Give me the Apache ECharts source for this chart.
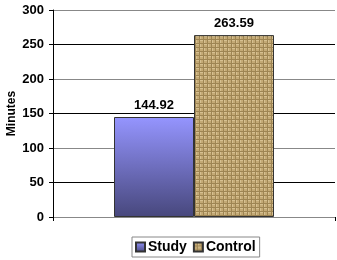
<!DOCTYPE html>
<html>
<head>
<meta charset="utf-8">
<script src="https://cdn.jsdelivr.net/npm/echarts@6/dist/echarts.min.js"></script>
<style>
  html, body { margin: 0; padding: 0; background: #fff; }
  #chart { width: 337px; height: 260px; }
</style>
</head>
<body>
<div id="chart"></div>
<script>
const categories = [''];
const seriesNames = ['Study', 'Control'];
const studyValues = [144.92];
const controlValues = [263.59];
const yTicks = [0, 50, 100, 150, 200, 250, 300];

// burlap-like woven texture for the Control bar
const makeBurlap = () => {
  const c = document.createElement('canvas');
  c.width = 8;
  c.height = 8;
  const ctx = c.getContext('2d');
  ctx.fillStyle = '#c4aa76';
  ctx.fillRect(0, 0, 8, 8);
  ctx.fillStyle = '#9e8553';
  ctx.fillRect(3, 0, 1, 8);
  ctx.fillRect(7, 0, 1, 8);
  ctx.fillRect(0, 3, 8, 1);
  ctx.fillRect(0, 7, 8, 1);
  ctx.fillStyle = '#d6c091';
  ctx.fillRect(0, 0, 3, 1);
  ctx.fillRect(4, 4, 3, 1);
  ctx.fillRect(4, 0, 1, 3);
  ctx.fillRect(0, 4, 1, 3);
  return c;
};

const chart = echarts.init(document.getElementById('chart'));
const labelStyle = {
  show: true,
  position: 'top',
  distance: 5,
  fontFamily: 'Liberation Sans',
  fontWeight: 'bold',
  fontSize: 13,
  color: '#000',
  formatter: (p) => p.value.toFixed(2),
};

chart.setOption({
  animation: false,
  grid: { left: 53, right: 2, top: 10, bottom: 43, outerBoundsMode: 'none', containLabel: false },
  legend: {
    top: 237,
    left: 132,
    data: seriesNames,
    icon: 'rect',
    itemWidth: 9,
    itemHeight: 9,
    itemGap: 6,
    padding: [3, 4, 3, 3],
    borderColor: '#888',
    borderWidth: 1,
    borderRadius: 0,
    textStyle: {
      fontFamily: 'Liberation Sans',
      fontWeight: 'bold',
      fontSize: 14,
      color: '#000',
      padding: [0, 0, 0, -2],
    },
  },
  xAxis: {
    type: 'category',
    data: categories,
    axisLine: { lineStyle: { color: '#888', width: 1 } },
    axisTick: { show: true, length: 4, lineStyle: { color: '#000' } },
    axisLabel: { show: false },
  },
  yAxis: {
    type: 'value',
    min: yTicks[0],
    max: yTicks[yTicks.length - 1],
    interval: 50,
    name: 'Minutes',
    nameLocation: 'middle',
    nameGap: 35,
    nameMoveOverlap: false,
    nameTextStyle: {
      fontFamily: 'Liberation Sans',
      fontWeight: 'bold',
      fontSize: 12,
      color: '#000',
    },
    axisLine: { show: true, lineStyle: { color: '#000' } },
    axisTick: { show: true, length: 4, lineStyle: { color: '#000' } },
    axisLabel: {
      fontFamily: 'Liberation Sans',
      fontWeight: 'bold',
      fontSize: 13,
      color: '#000',
      margin: 9,
    },
    splitLine: { lineStyle: { color: ['#888', '#000'], width: 1 } },
  },
  series: [
    {
      name: seriesNames[0],
      type: 'bar',
      data: studyValues,
      barWidth: 80,
      barGap: '0%',
      itemStyle: {
        color: new echarts.graphic.LinearGradient(0, 0, 0, 1, [
          { offset: 0, color: '#9595ff' },
          { offset: 1, color: '#47477c' },
        ]),
        borderColor: '#333',
        borderWidth: 1,
      },
      label: labelStyle,
    },
    {
      name: seriesNames[1],
      type: 'bar',
      data: controlValues,
      barWidth: 80,
      barGap: '0%',
      itemStyle: {
        color: { image: makeBurlap(), repeat: 'repeat' },
        borderColor: '#333',
        borderWidth: 1,
      },
      label: labelStyle,
    },
  ],
});
</script>
</body>
</html>
